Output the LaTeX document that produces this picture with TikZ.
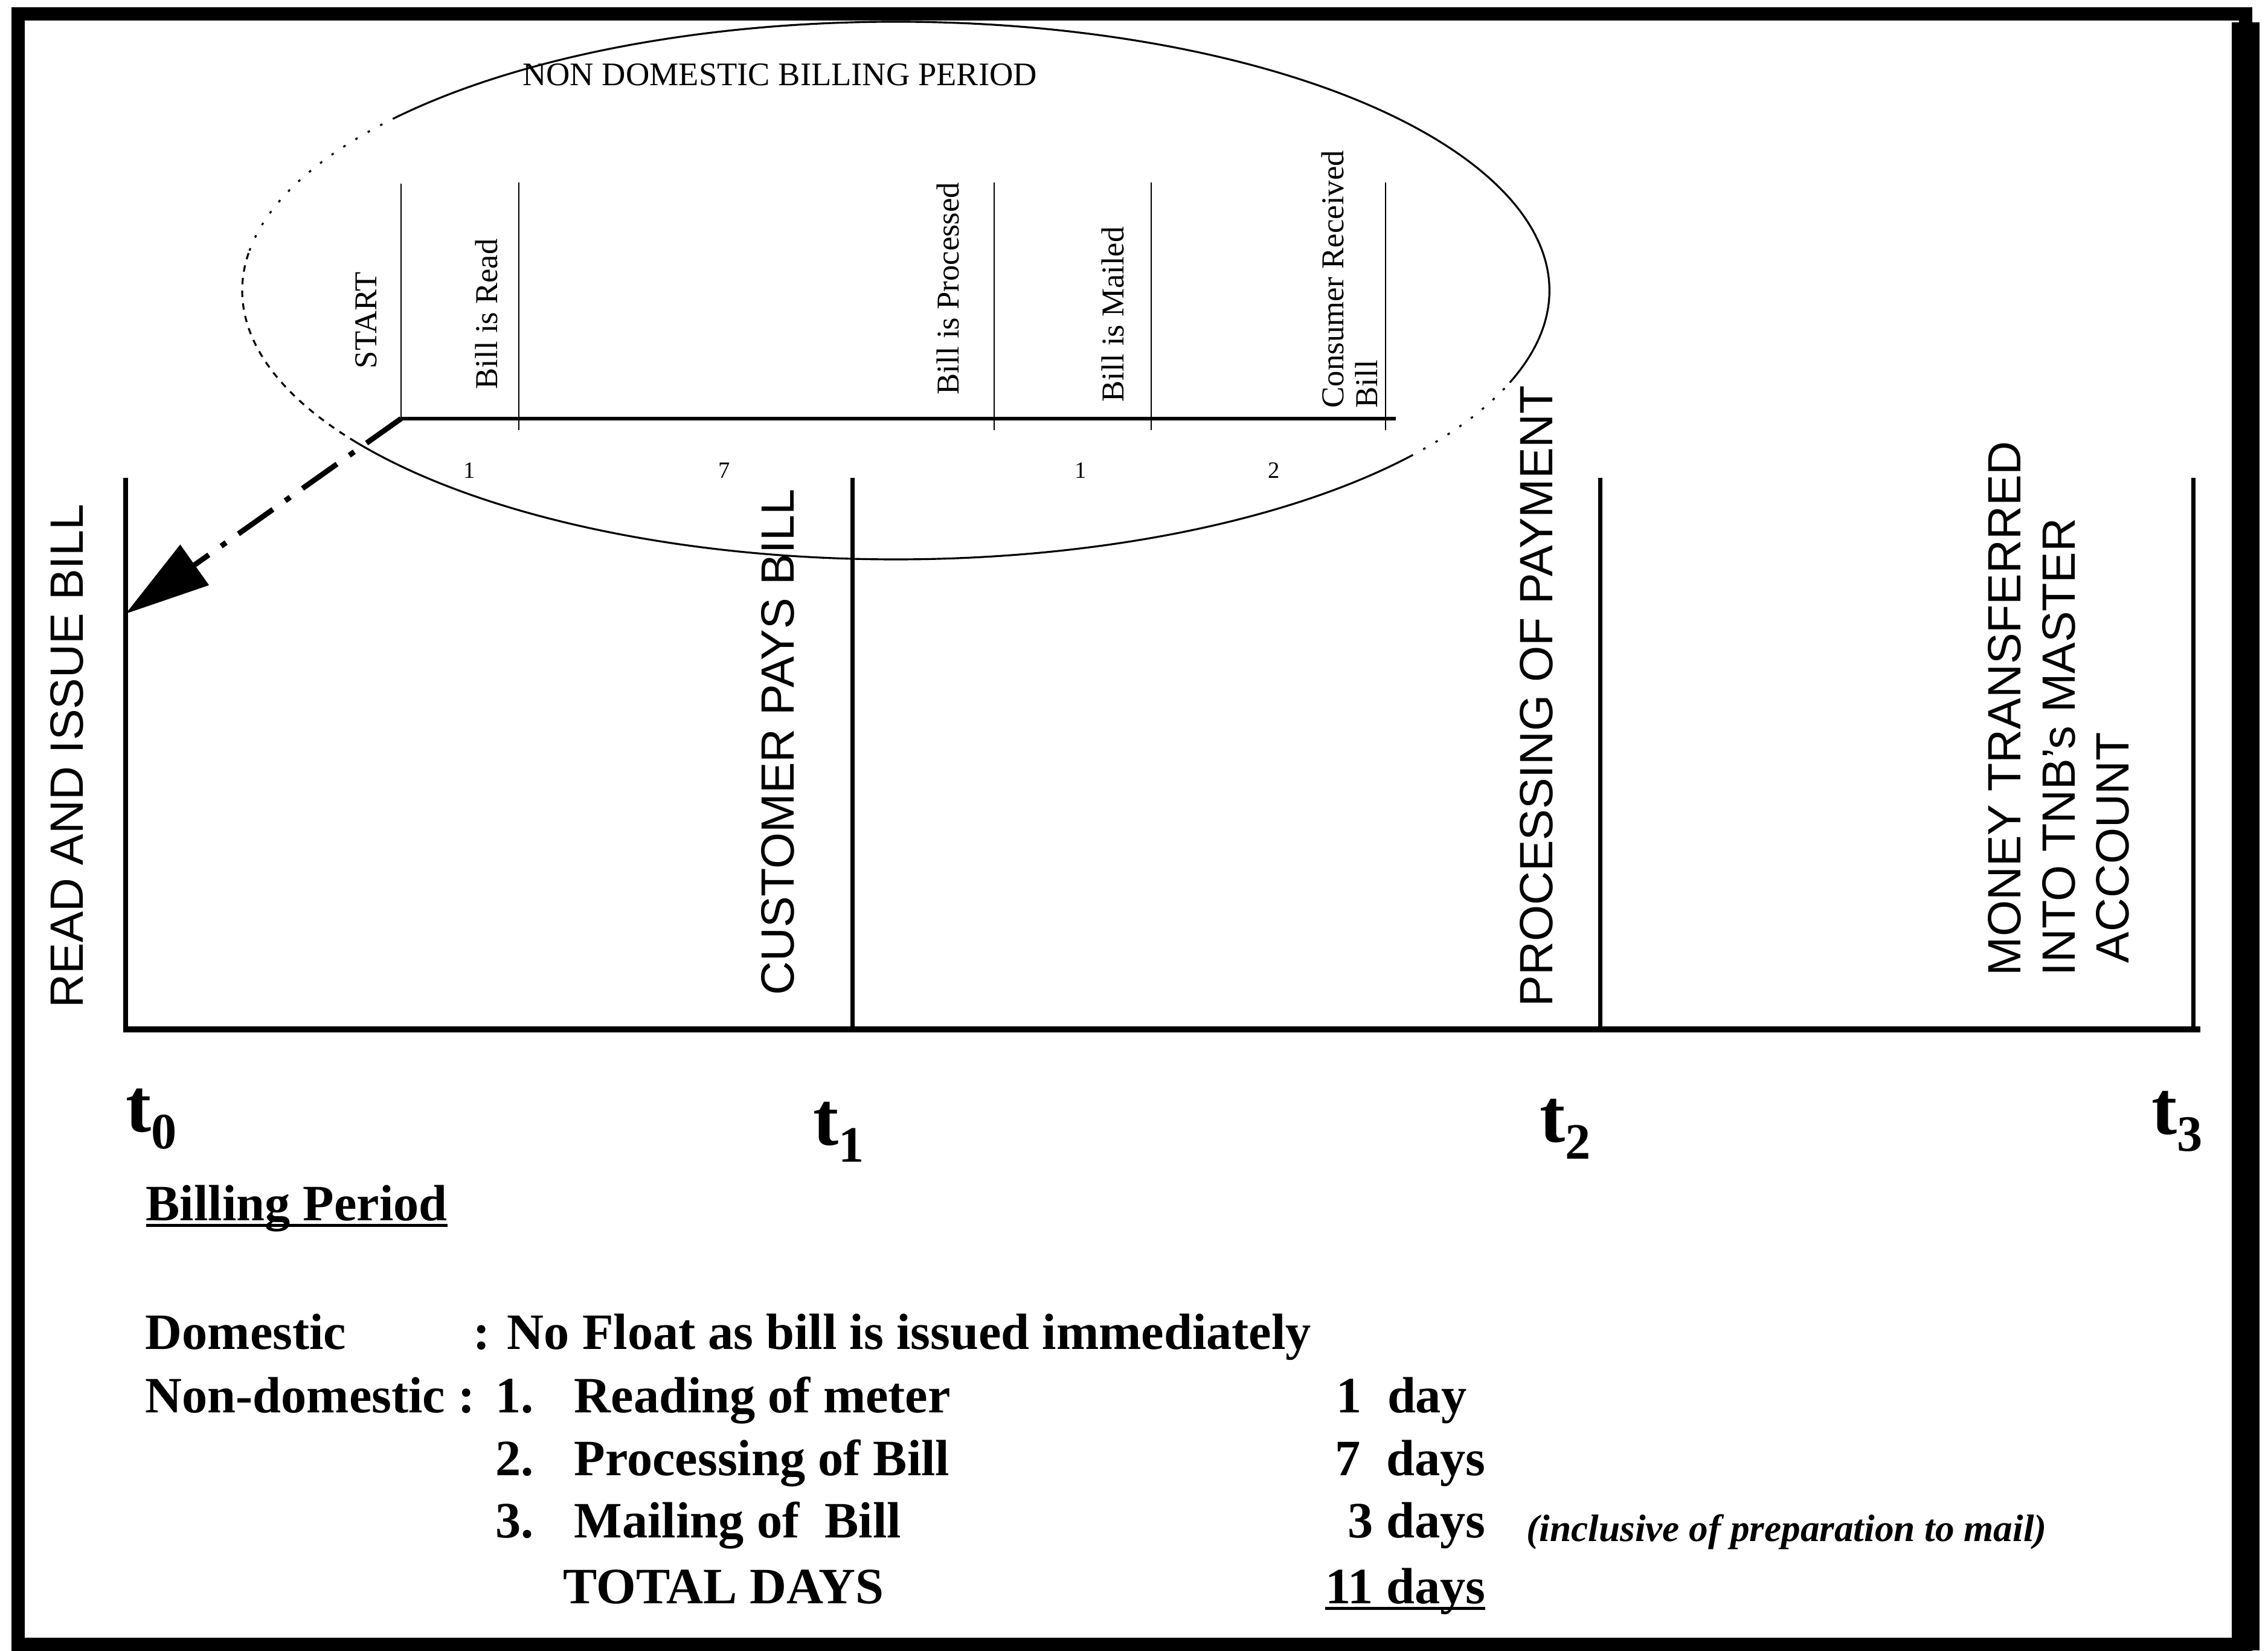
\documentclass[tikz,border=0pt]{standalone}
\usepackage{fontspec}
\setmainfont{Liberation Serif}
\setsansfont{Liberation Sans}
\usetikzlibrary{arrows.meta,calc,positioning}
\newcommand{\tlab}[1]{t\raisebox{-8pt}{\fontsize{24}{24}\selectfont #1}}
\newcommand{\ulin}[1]{\setbox0\hbox{#1}\rlap{\rule[-3pt]{\wd0}{1.3pt}}\box0}

\begin{document}
\begin{tikzpicture}[>=Latex,
    vlab/.style={rotate=90,anchor=base west,inner sep=0,font=\sffamily\fontsize{22}{25.5}\selectfont},
    ilab/.style={rotate=90,anchor=base west,inner sep=0,font=\fontsize{15}{16}\selectfont},
    txt/.style={anchor=base west,inner sep=0,font=\bfseries\fontsize{24}{28}\selectfont},
    tlabel/.style={anchor=base west,inner sep=0,font=\bfseries\fontsize{36}{36}\selectfont},
    daynum/.style={inner sep=0,font=\fontsize{11}{11}\selectfont},
    dots/.style={dash pattern=on 1.2pt off 5.5pt}]
  \useasboundingbox (0,0) rectangle (37.55,27.32);
  \draw[line width=6pt] (0.30,0.10) rectangle (37.18,27.09);
  \draw[line width=13pt] (37.18,0) -- (37.18,26.95);
  \coordinate (t0) at (2.08,10.28);
  \coordinate (t1) at (14.11,10.28);
  \coordinate (t2) at (26.49,10.28);
  \coordinate (t3) at (36.31,10.28);
  \draw[line width=3pt,shorten <=-0.04cm,shorten >=-0.12cm] (t0) -- (t3);
  \foreach \t in {t0,t1,t2,t3} \draw[line width=2pt] (\t) -- ++(0,9.13);
  \node[tlabel] (l0) at (2.08,8.59) {\tlab{0}};
  \node[tlabel] (l1) at (13.46,8.37) {\tlab{1}};
  \node[tlabel] (l2) at (25.49,8.42) {\tlab{2}};
  \node[tlabel] (l3) at (35.62,8.55) {\tlab{3}};
  \node[vlab] (issue) at (1.37,10.63) {READ AND ISSUE BILL};
  \node[vlab] (pays) at (13.14,10.84) {CUSTOMER PAYS BILL};
  \node[vlab] (procpay) at (25.70,10.65) {PROCESSING OF PAYMENT};
  \node[vlab,anchor=north west,align=left] (money) at (32.91,11.16) {MONEY TRANSFERRED\\INTO TNB's MASTER\\\hspace*{6pt}ACCOUNT};
  % billing period ellipse
  \coordinate (ec) at (14.83,22.51);
  \foreach \a/\b/\s in {-20/140/solid,140/172/dots,172/214/dashed,214/322/solid,322/340/dots}
    \draw[line width=0.9pt,\s] ($(ec)+(\a:10.82cm and 4.45cm)$) arc[start angle=\a,end angle=\b,x radius=10.82cm,y radius=4.45cm];
  \node[anchor=base,inner sep=0,font=\fontsize{15.5}{16}\selectfont] (ndbp) at (12.91,25.90) {NON DOMESTIC BILLING PERIOD};
  \coordinate (s0) at (6.64,20.39);
  \coordinate (s5) at (23.11,20.39);
  \draw[line width=1.8pt] (s0) -- (s5);
  \draw[line width=0.7pt] (s0) -- ++(0,3.89);
  \foreach \x in {8.59,16.46,19.06,22.94} \draw[line width=0.7pt] (\x,20.20) -- (\x,24.30);
  \node[ilab] (start) at (6.23,21.21) {START};
  \node[ilab] (isread) at (8.23,20.87) {Bill is Read};
  \node[ilab] (isproc) at (15.87,20.78) {Bill is Processed};
  \node[ilab] (ismail) at (18.60,20.66) {Bill is Mailed};
  \node[ilab,anchor=north west,align=left] (recv) at (21.87,20.56) {Consumer Received\\Bill};
  \foreach \x/\n [count=\i] in {7.77/1,11.99/7,17.89/1,21.09/2} \node[daynum] (n\i) at (\x,19.53) {\n};
  \coordinate (tip) at (2.08,17.16);
  \draw[line width=2.5pt,dash pattern=on 7mm off 2.5mm on 1mm off 2.5mm,-{Triangle[length=14mm,width=8mm]}] (s0) -- (tip);
  % summary text
  \node[txt] (bp) at (2.41,7.12) {\ulin{Billing Period}};
  \node[txt] (dom) at (2.40,4.99) {Domestic};
  \node[txt] (domv) at (7.83,4.99) {: No Float as bill is issued immediately};
  \node[txt] (ndom) at (2.40,3.94) {Non-domestic :};
  \foreach \y/\n/\t [count=\i] in {3.94/1./Reading of meter,2.90/2./Processing of Bill,1.87/3./Mailing of~~Bill} {
    \node[txt] (num\i) at (8.20,\y) {\n};
    \node[txt] (item\i) at (9.50,\y) {\t};
  }
  \node[txt] (total) at (9.32,0.78) {TOTAL DAYS};
  \node[txt] (dy1) at (22.12,3.94) {1~~day};
  \node[txt,anchor=base east] (dy2) at (24.60,2.90) {7~~days};
  \node[txt,anchor=base east] (dy3) at (24.60,1.87) {3 days};
  \node[txt,anchor=base east] (dy4) at (24.60,0.78) {\ulin{11 days}};
  \node[txt,font=\bfseries\itshape\fontsize{18}{20}\selectfont] (note) at (25.27,1.81) {(inclusive of preparation to mail)};
\end{tikzpicture}
\end{document}
